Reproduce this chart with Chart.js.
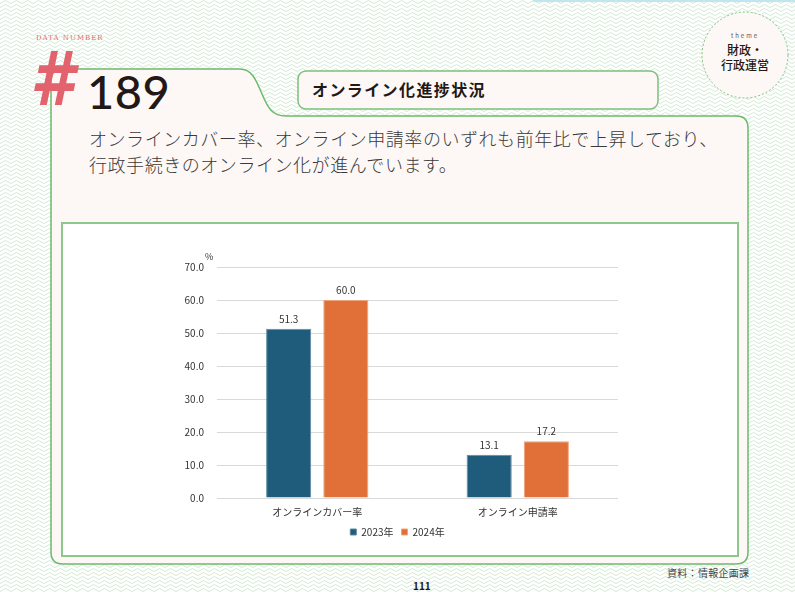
<!DOCTYPE html>
<html lang="ja">
<head>
<meta charset="utf-8">
<script src="https://cdn.jsdelivr.net/npm/chart.js@4"></script>
<style>
  html, body { margin: 0; padding: 0; }
  body {
    width: 795px; height: 592px; position: relative; overflow: hidden;
    font-family: "Noto Sans CJK JP", "Noto Sans", sans-serif;
    background-color: #ffffff;
    background-image: url("data:image/svg+xml;utf8,<svg xmlns='http://www.w3.org/2000/svg' width='11' height='4'><path d='M0 3.5 L5.5 0.5 L11 3.5' fill='none' stroke='%23d3e9d3' stroke-width='1'/></svg>");
  }
  .abs { position: absolute; }
  #topbar { left: 533px; top: 0; width: 262px; height: 2px; background: #bfe6f3; }
  #frame { left: 0; top: 0; }
  #datanum { left: 36px; top: 34px; font-family: "DejaVu Serif", serif; font-size: 7px; letter-spacing: 1px; color: #e06a73; }
  #hash { left: 30px; top: 42px; font-family: "DejaVu Sans", sans-serif; font-size: 74px; font-weight: bold; font-style: italic; color: #e2636e; line-height: 1; transform: scaleX(0.85); transform-origin: left top; }
  #num { left: 87px; top: 68px; font-family: "Lato", "Noto Sans", sans-serif; font-size: 47px; font-weight: 500; color: #231815; line-height: 1; letter-spacing: 0.5px; }
  #title { left: 312px; top: 77px; font-size: 16px; font-weight: bold; color: #231815; letter-spacing: 1.4px; }
  #lead { left: 89px; top: 125px; font-size: 18px; font-weight: 300; color: #3a3a3a; line-height: 26px; letter-spacing: 0.55px; }
  #theme { left: 702px; top: 12px; width: 86px; height: 86px; text-align: center; color: #231815; }
  #theme .t { font-size: 6px; letter-spacing: 2px; margin-top: 19px; color: #555; }
  #theme .m { font-size: 12px; line-height: 15px; margin-top: 2px; font-weight: 500; }
  #chartBox { left: 64px; top: 225px; width: 672px; height: 329px; }
  #src { left: 667px; top: 565px; font-size: 10px; color: #444; letter-spacing: 0.3px; }
  #page { left: 413px; top: 578px; font-size: 10px; font-weight: bold; color: #231815; }
</style>
</head>
<body>
<div id="topbar" class="abs"></div>
<svg id="frame" class="abs" width="795" height="592">
  <path d="M63 69 H240 C252 69 256 80 262 94 C268 108 272 116 286 116 H736 Q748 116 748 128 V552 Q748 564 736 564 H63 Q51 564 51 552 V81 Q51 69 63 69 Z"
        fill="#fdf8f5" stroke="#6cb96c" stroke-width="1.5"/>
  <rect x="298" y="71" width="360" height="38" rx="8" fill="#fdf8f5" stroke="#7cc07c" stroke-width="1.5"/>
  <rect x="62" y="223" width="676" height="333" fill="#ffffff" stroke="#8cc88c" stroke-width="2"/>
  <circle cx="745" cy="55" r="43" fill="#fdf8f5" stroke="#7cc07c" stroke-width="1" stroke-dasharray="2 2"/>
</svg>
<div id="datanum" class="abs">DATA NUMBER</div>
<div id="hash" class="abs">#</div>
<div id="num" class="abs">189</div>
<div id="title" class="abs">オンライン化進捗状況</div>
<div id="lead" class="abs">オンラインカバー率、オンライン申請率のいずれも前年比で上昇しており、<br>行政手続きのオンライン化が進んでいます。</div>
<div id="theme" class="abs"><div class="t">theme</div><div class="m">財政・<br>行政運営</div></div>
<div id="chartBox" class="abs"><canvas id="myChart"></canvas></div>
<div id="src" class="abs">資料：情報企画課</div>
<div id="page" class="abs">111</div>

<script>
var categories = ["オンラインカバー率", "オンライン申請率"];
var seriesNames = ["2023年", "2024年"];
var values2023 = [51.3, 13.1];
var values2024 = [60.0, 17.2];
var yTicks = [0, 10, 20, 30, 40, 50, 60, 70];

var jpFont = '"Noto Sans CJK JP", sans-serif';

// labels above bars + the % unit
var valueLabels = {
  id: 'valueLabels',
  afterDatasetsDraw: function(chart) {
    var ctx = chart.ctx;
    ctx.save();
    ctx.font = '10px ' + jpFont;
    ctx.fillStyle = '#333';
    ctx.textAlign = 'center';
    ctx.textBaseline = 'bottom';
    chart.data.datasets.forEach(function(ds, i) {
      chart.getDatasetMeta(i).data.forEach(function(bar, j) {
        ctx.fillText(ds.data[j].toFixed(1), bar.x, bar.y - 5);
      });
    });
    var y = chart.scales.y;
    ctx.textAlign = 'left';
    ctx.font = '9px ' + jpFont;
    ctx.fillText('%', y.right - 12, y.getPixelForValue(70) - 6);
    ctx.restore();
  }
};

window.onload = function() {
  var ctx = document.getElementById('myChart').getContext('2d');
  window.myBar = new Chart(ctx, {
    type: 'bar',
    data: {
      labels: categories,
      datasets: [
        { label: seriesNames[0], data: values2023, backgroundColor: '#1f5b7a', borderColor: '#5d8aa3', borderWidth: 1 },
        { label: seriesNames[1], data: values2024, backgroundColor: '#e07037', borderColor: '#f0a27a', borderWidth: 1 }
      ]
    },
    options: {
      responsive: true,
      maintainAspectRatio: false,
      animation: false,
      datasets: { bar: { categoryPercentage: 0.57, barPercentage: 0.79 } },
      layout: { padding: { left: 113, right: 118, top: 42, bottom: 7 } },
      plugins: {
        tooltip: { enabled: false },
        legend: {
          position: 'bottom',
          labels: { font: { size: 10, family: jpFont }, color: '#333', boxWidth: 6, boxHeight: 6, padding: 8 }
        }
      },
      scales: {
        x: {
          clip: false,
          afterFit: function(scale) { scale.height = 21; },
          grid: { display: false, drawTicks: false },
          border: { display: false },
          ticks: { font: { size: 10, family: jpFont }, color: '#333', padding: 8, maxRotation: 0 }
        },
        y: {
          min: 0, max: 70,
          afterBuildTicks: function(scale) { scale.ticks = yTicks.map(function(v) { return { value: v }; }); },
          afterFit: function(scale) { scale.width = 40; },
          grid: { color: '#d9d9d9', drawTicks: false },
          border: { display: false },
          ticks: {
            font: { size: 10, family: jpFont }, color: '#333', padding: 13,
            callback: function(v) { return v.toFixed(1); }
          }
        }
      }
    },
    plugins: [valueLabels]
  });
};
</script>
</body>
</html>
